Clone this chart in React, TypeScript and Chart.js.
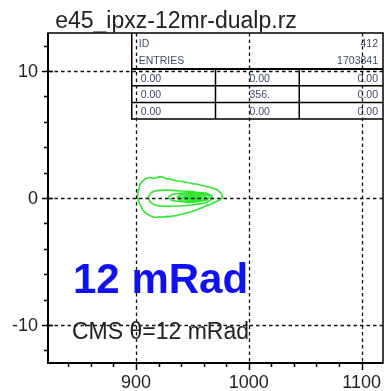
import { useEffect, useRef } from "react";
import { Chart, registerables } from "chart.js";

Chart.register(...registerables);

// ---- histogram frame ----
const TITLE = "e45_ipxz-12mr-dualp.rz";
const X_MIN = 822;
const X_MAX = 1119;
const Y_MIN = -13;
const Y_MAX = 13;
const xMajorTicks = [900, 1000, 1100];
const xMinorTicks = [840, 860, 880, 920, 940, 960, 980, 1020, 1040, 1060, 1080];
const yMajorTicks = [-10, 0, 10];
const yMinorTicks = [-12, -8, -6, -4, -2, 2, 4, 6, 8, 12];

// ---- statistics box ----
const statsHeader: [string, string][] = [
  ["ID", "412"],
  ["ENTRIES", "1703841"],
];
const statsRows: string[][] = [
  ["0.00", "0.00", "0.00"],
  ["0.00", "356.", "0.00"],
  ["0.00", "0.00", "0.00"],
];

// ---- annotations ----
const bigLabel = "12 mRad";
const cmsLabel = "CMS \u03b8=12 mRad";

// ---- contour levels (x, y) ----
const contourOuter: [number, number][] = [
  [901.2, 0.18], [903.5, 1.1], [906.2, 1.35], [908.0, 1.5], [912.4, 1.63], [915.5, 1.55],
  [918.3, 1.6], [921.0, 1.68], [924.2, 1.63], [927.2, 1.5], [930.0, 1.52], [933.0, 1.42],
  [936.0, 1.36], [938.9, 1.32], [941.5, 1.3], [944.9, 1.22], [947.9, 1.2], [950.7, 1.1],
  [953.5, 1.1], [956.6, 1.02], [959.5, 0.98], [962.6, 0.89], [965.5, 0.85], [968.4, 0.77],
  [970.8, 0.72], [972.8, 0.6], [975.8, 0.32], [976.7, 0.06], [974.3, -0.16], [971.8, -0.25],
  [969.9, -0.34], [965.5, -0.53], [962.0, -0.6], [959.6, -0.73], [956.5, -0.82], [953.7, -0.95],
  [950.6, -1.02], [947.8, -1.13], [944.8, -1.16], [941.9, -1.26], [939.0, -1.3], [936.0, -1.39],
  [933.0, -1.42], [930.1, -1.47], [927.0, -1.45], [924.2, -1.52], [921.0, -1.48], [918.3, -1.54],
  [915.2, -1.5], [912.4, -1.39], [910.0, -1.28], [908.0, -1.13], [906.0, -0.95], [905.0, -0.73],
  [903.2, -0.45], [902.0, -0.21], [901.2, 0.18],
];
const contourMiddle: [number, number][] = [
  [910.9, 0.06], [913.9, 0.45], [918.3, 0.58], [922.5, 0.6], [927.2, 0.63], [931.5, 0.6],
  [936.0, 0.58], [940.5, 0.55], [944.9, 0.53], [949.5, 0.5], [953.7, 0.45], [958.0, 0.42],
  [962.6, 0.37], [967.0, 0.18], [967.9, 0.0], [965.5, -0.21], [962.5, -0.33], [959.6, -0.42],
  [955.0, -0.48], [950.7, -0.53], [946.5, -0.57], [941.9, -0.61], [937.5, -0.63], [933.0, -0.65],
  [928.5, -0.66], [924.2, -0.65], [920.5, -0.62], [916.8, -0.55], [912.4, -0.34], [910.9, 0.06],
];
const contourInner: [number, number][] = [
  [928.6, 0.06], [931.9, 0.28], [938.9, 0.37], [947.8, 0.41], [956.6, 0.38], [962.8, 0.28],
  [965.5, 0.06], [962.8, -0.16], [956.6, -0.26], [947.8, -0.3], [938.9, -0.28], [931.9, -0.2],
  [928.6, 0.06],
];
const contourCoreA: [number, number][] = [
  [936.2, 0.04], [940.0, 0.31], [947.8, 0.39], [955.4, 0.36], [960.6, 0.24], [962.3, 0.02],
  [959.7, -0.2], [953.1, -0.32], [946.0, -0.35], [939.3, -0.25], [936.2, 0.04],
];
const contourCoreB: [number, number][] = [
  [942.5, 0.03], [945.1, 0.24], [951.3, 0.28], [956.6, 0.2], [958.4, 0.02], [955.8, -0.16],
  [950.4, -0.24], [945.1, -0.18], [942.5, 0.03],
];
const contourCoreC: [number, number][] = [
  [946.0, 0.02], [949.6, 0.16], [954.0, 0.13], [955.3, 0.0], [952.2, -0.13], [947.8, -0.11],
  [946.0, 0.02],
];

const GREEN = "#2fe62f";
const FONT = "'Liberation Sans', Arial, sans-serif";
const TEXT_DARK = "#222222";
const STATS_TEXT = "#3d4a66";

const toPoints = (c: [number, number][]) => c.map(([x, y]) => ({ x, y }));

const contourDataset = (c: [number, number][], fillColor?: string) => ({
  data: toPoints(c),
  showLine: true,
  borderColor: GREEN,
  borderWidth: 1.6,
  pointRadius: 0,
  tension: 0,
  fill: fillColor ? "shape" : false,
  backgroundColor: fillColor || "transparent",
});

const framePlugin = {
  id: "rootFrame",
  beforeDatasetsDraw(chart: any) {
    const { ctx, chartArea } = chart;
    const { left, top, right, width } = chartArea;
    // statistics box in the upper right corner
    const bx = left + width * 0.25;
    const bw = right - bx;
    const headerBottom = top + 36;
    const rowH = 16.7;
    const bottom = headerBottom + rowH * statsRows.length;
    ctx.save();
    ctx.fillStyle = "#ffffff";
    ctx.fillRect(bx, top, bw, bottom - top);
    ctx.strokeStyle = "#000000";
    ctx.lineWidth = 1.5;
    ctx.beginPath();
    ctx.moveTo(bx, top);
    ctx.lineTo(bx, bottom);
    ctx.lineTo(right, bottom);
    for (let i = 1; i < statsRows.length; i++) {
      const y = headerBottom + rowH * i;
      ctx.moveTo(bx, y);
      ctx.lineTo(right, y);
    }
    const colW = bw / 3;
    ctx.moveTo(bx + colW, headerBottom);
    ctx.lineTo(bx + colW, bottom);
    ctx.moveTo(bx + 2 * colW, headerBottom);
    ctx.lineTo(bx + 2 * colW, bottom);
    ctx.stroke();
    ctx.lineWidth = 2;
    ctx.beginPath();
    ctx.moveTo(bx, headerBottom);
    ctx.lineTo(right, headerBottom);
    ctx.stroke();

    ctx.fillStyle = STATS_TEXT;
    ctx.font = `10.5px ${FONT}`;
    ctx.textBaseline = "alphabetic";
    statsHeader.forEach(([k, v], i) => {
      const y = top + 14 + i * 17;
      ctx.textAlign = "left";
      ctx.fillText(k, bx + 7, y);
      ctx.textAlign = "right";
      ctx.fillText(v, right - 5, y);
    });
    statsRows.forEach((row, i) => {
      const y = headerBottom + rowH * i + 12.5;
      ctx.textAlign = "left";
      ctx.fillText(row[0], bx + 9, y);
      ctx.fillText(row[1], bx + colW + 34, y);
      ctx.textAlign = "right";
      ctx.fillText(row[2], right - 5, y);
    });
    ctx.restore();
  },
  afterDatasetsDraw(chart: any) {
    const { ctx, chartArea, scales } = chart;
    const { left, top, right, bottom } = chartArea;
    const xs = scales.x;
    const ys = scales.y;
    ctx.save();

    // dotted grid on top of everything in the pad
    ctx.strokeStyle = "#111111";
    ctx.lineWidth = 1.3;
    ctx.setLineDash([3.5, 3]);
    ctx.beginPath();
    xMajorTicks.forEach((v) => {
      const px = Math.round(xs.getPixelForValue(v)) + 0.5;
      ctx.moveTo(px, top);
      ctx.lineTo(px, bottom);
    });
    yMajorTicks.forEach((v) => {
      const py = Math.round(ys.getPixelForValue(v)) + 0.5;
      ctx.moveTo(left, py);
      ctx.lineTo(right, py);
    });
    ctx.stroke();
    ctx.setLineDash([]);

    // frame
    ctx.strokeStyle = "#000000";
    ctx.lineWidth = 1.5;
    ctx.strokeRect(left, top, right - left, bottom - top);
    ctx.lineWidth = 2;
    ctx.beginPath();
    ctx.moveTo(left, top);
    ctx.lineTo(left, bottom);
    ctx.lineTo(right, bottom);
    ctx.stroke();

    // tick marks
    ctx.lineWidth = 1.5;
    ctx.beginPath();
    xMajorTicks.forEach((v) => {
      const px = Math.round(xs.getPixelForValue(v)) + 0.5;
      ctx.moveTo(px, bottom);
      ctx.lineTo(px, bottom + 7);
    });
    xMinorTicks.forEach((v) => {
      const px = Math.round(xs.getPixelForValue(v)) + 0.5;
      ctx.moveTo(px, bottom);
      ctx.lineTo(px, bottom + 4);
    });
    yMajorTicks.forEach((v) => {
      const py = Math.round(ys.getPixelForValue(v)) + 0.5;
      ctx.moveTo(left - 6, py);
      ctx.lineTo(left + 5, py);
    });
    yMinorTicks.forEach((v) => {
      const py = Math.round(ys.getPixelForValue(v)) + 0.5;
      ctx.moveTo(left - 4, py);
      ctx.lineTo(left, py);
    });
    ctx.stroke();

    // tick labels
    ctx.fillStyle = TEXT_DARK;
    ctx.font = `18px ${FONT}`;
    ctx.textAlign = "center";
    ctx.textBaseline = "alphabetic";
    xMajorTicks.forEach((v) => {
      ctx.fillText(String(v), xs.getPixelForValue(v), bottom + 25);
    });
    ctx.textAlign = "right";
    ctx.textBaseline = "middle";
    yMajorTicks.forEach((v) => {
      ctx.fillText(String(v), left - 10, ys.getPixelForValue(v) + 1);
    });

    // title
    ctx.textAlign = "center";
    ctx.textBaseline = "alphabetic";
    ctx.font = `23px ${FONT}`;
    ctx.fillText(TITLE, 176, 28);

    // annotations
    ctx.textAlign = "left";
    ctx.font = `23px ${FONT}`;
    ctx.fillStyle = TEXT_DARK;
    ctx.fillText(cmsLabel, 72, 339);
    ctx.font = `bold 42px ${FONT}`;
    ctx.fillStyle = "#1010f5";
    ctx.fillText(bigLabel, 73, 293);
    ctx.restore();
  },
};

export default function App() {
  const canvasRef = useRef<HTMLCanvasElement | null>(null);

  useEffect(() => {
    const canvas = canvasRef.current;
    if (!canvas) return;
    const chart = new Chart(canvas, {
      type: "scatter",
      data: {
        datasets: [
          contourDataset(contourOuter),
          contourDataset(contourMiddle),
          contourDataset(contourInner),
          contourDataset(contourCoreA, "rgba(47,230,47,0.7)"),
          contourDataset(contourCoreB, "rgba(47,230,47,0.8)"),
          contourDataset(contourCoreC, "rgba(47,230,47,0.9)"),
        ] as any,
      },
      options: {
        animation: false,
        responsive: false,
        devicePixelRatio: 1,
        layout: { padding: { top: 33, right: 1, left: 0, bottom: 0 } },
        plugins: {
          legend: { display: false },
          tooltip: { enabled: false },
          title: { display: false },
        },
        scales: {
          x: {
            type: "linear",
            min: X_MIN,
            max: X_MAX,
            grid: { display: false, drawTicks: false },
            border: { display: false },
            ticks: { display: false },
            afterFit: (s: any) => {
              s.height = 28;
            },
          },
          y: {
            type: "linear",
            min: Y_MIN,
            max: Y_MAX,
            grid: { display: false, drawTicks: false },
            border: { display: false },
            ticks: { display: false },
            afterFit: (s: any) => {
              s.width = 48;
            },
          },
        },
      },
      plugins: [framePlugin],
    });
    return () => chart.destroy();
  }, []);

  return (
    <div style={{ position: "fixed", left: 0, top: 0, width: 384, height: 391, background: "#ffffff" }}>
      <canvas ref={canvasRef} width={384} height={391} style={{ display: "block" }} />
    </div>
  );
}
